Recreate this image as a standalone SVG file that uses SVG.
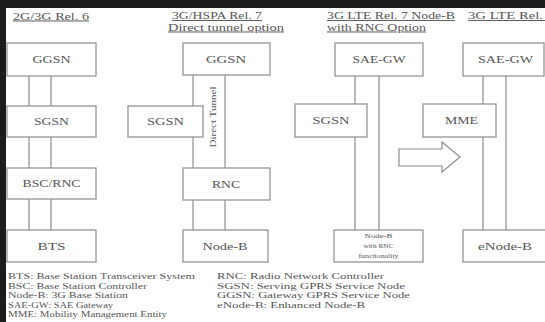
<svg xmlns="http://www.w3.org/2000/svg" width="545" height="322" viewBox="0 0 545 322">
<style>
.box{fill:#fff;stroke:#8c8c8c;stroke-width:1.2}
.ln{stroke:#8c8c8c;stroke-width:1.2;fill:none}
text{font-family:"Liberation Serif","Times New Roman",serif;fill:#555}
.lbl{font-size:10px;text-anchor:middle}
.ttl{font-size:9.5px;text-decoration:underline}
.leg{font-size:8.5px}
.sm{font-size:6px;text-anchor:middle}
</style>
<rect x="0" y="0" width="545" height="322" fill="#fff"/>
<rect x="0" y="0" width="545" height="8" fill="#1c1c1c"/>
<rect x="0" y="0" width="6" height="322" fill="#1c1c1c"/>

<g id="titles">
<text class="ttl" x="13" y="19.5" textLength="76" lengthAdjust="spacingAndGlyphs">2G/3G Rel. 6</text>
<text class="ttl" x="172" y="19" textLength="90" lengthAdjust="spacingAndGlyphs">3G/HSPA Rel. 7</text>
<text class="ttl" x="168" y="30.5" textLength="116" lengthAdjust="spacingAndGlyphs">Direct tunnel option</text>
<text class="ttl" x="327" y="19" textLength="128" lengthAdjust="spacingAndGlyphs">3G LTE Rel. 7 Node-B</text>
<text class="ttl" x="327" y="30.5" textLength="99" lengthAdjust="spacingAndGlyphs">with RNC Option</text>
<text class="ttl" x="468" y="19" textLength="86" lengthAdjust="spacingAndGlyphs">3G LTE Rel. 8</text>
</g>

<g id="connectors">
<line class="ln" x1="29" y1="76" x2="29" y2="106"/>
<line class="ln" x1="51" y1="76" x2="51" y2="106"/>
<line class="ln" x1="29" y1="137" x2="29" y2="168"/>
<line class="ln" x1="51" y1="137" x2="51" y2="168"/>
<line class="ln" x1="29" y1="199" x2="29" y2="230"/>
<line class="ln" x1="51" y1="199" x2="51" y2="230"/>

<line class="ln" x1="193" y1="75" x2="193" y2="106"/>
<line class="ln" x1="193" y1="137" x2="193" y2="168"/>
<line class="ln" x1="225" y1="75" x2="225" y2="168"/>
<line class="ln" x1="193" y1="200" x2="193" y2="230"/>
<line class="ln" x1="225" y1="200" x2="225" y2="230"/>

<line class="ln" x1="355" y1="76" x2="355" y2="104"/>
<line class="ln" x1="355" y1="137" x2="355" y2="230"/>
<line class="ln" x1="379" y1="76" x2="379" y2="230"/>

<line class="ln" x1="483" y1="76" x2="483" y2="104"/>
<line class="ln" x1="483" y1="137" x2="483" y2="230"/>
<line class="ln" x1="506" y1="76" x2="506" y2="230"/>
</g>
<text id="direct-tunnel" font-size="8.5" text-anchor="middle" transform="translate(216 117) rotate(-90)" textLength="61" lengthAdjust="spacingAndGlyphs">Direct Tunnel</text>

<g id="ggsn1"><rect class="box" x="7" y="43" width="89" height="33"/><text class="lbl" x="51.5" y="63" textLength="38" lengthAdjust="spacingAndGlyphs">GGSN</text></g>
<g id="sgsn1"><rect class="box" x="7" y="106" width="89" height="31"/><text class="lbl" x="51.5" y="125" textLength="35" lengthAdjust="spacingAndGlyphs">SGSN</text></g>
<g id="bscrnc1"><rect class="box" x="7" y="168" width="89" height="31"/><text class="lbl" x="51.5" y="187" textLength="58" lengthAdjust="spacingAndGlyphs">BSC/RNC</text></g>
<g id="bts1"><rect class="box" x="7" y="230" width="89" height="32"/><text class="lbl" x="51.5" y="249.5" textLength="28" lengthAdjust="spacingAndGlyphs">BTS</text></g>

<g id="ggsn2"><rect class="box" x="183" y="43" width="87" height="32"/><text class="lbl" x="226" y="62.5" textLength="40" lengthAdjust="spacingAndGlyphs">GGSN</text></g>
<g id="sgsn2"><rect class="box" x="128" y="106" width="75" height="31"/><text class="lbl" x="165.5" y="125" textLength="37" lengthAdjust="spacingAndGlyphs">SGSN</text></g>
<g id="rnc2"><rect class="box" x="183" y="168" width="87" height="32"/><text class="lbl" x="226" y="187.5" textLength="28" lengthAdjust="spacingAndGlyphs">RNC</text></g>
<g id="nodeb2"><rect class="box" x="183" y="230" width="85" height="32"/><text class="lbl" x="225" y="249.5" textLength="45" lengthAdjust="spacingAndGlyphs">Node-B</text></g>

<g id="saegw3"><rect class="box" x="335" y="43" width="88" height="33"/><text class="lbl" x="379" y="63" textLength="53" lengthAdjust="spacingAndGlyphs">SAE-GW</text></g>
<g id="sgsn3"><rect class="box" x="295" y="104" width="72" height="33"/><text class="lbl" x="331" y="124" textLength="37" lengthAdjust="spacingAndGlyphs">SGSN</text></g>
<g id="nodeb3"><rect class="box" x="334" y="230" width="89" height="32"/>
<text class="sm" x="378.5" y="238" textLength="28" lengthAdjust="spacingAndGlyphs">Node-B</text>
<text class="sm" x="378.5" y="248" textLength="30" lengthAdjust="spacingAndGlyphs">with RNC</text>
<text class="sm" x="378.5" y="258" textLength="40" lengthAdjust="spacingAndGlyphs">functionality</text></g>

<g id="arrow"><polygon points="399,149 442,149 442,142 460,157 442,172 442,166 399,166" fill="#fff" stroke="#8c8c8c" stroke-width="1.2"/></g>

<g id="saegw4"><rect class="box" x="463" y="43" width="81" height="33"/><text class="lbl" x="505.5" y="63" textLength="55" lengthAdjust="spacingAndGlyphs">SAE-GW</text></g>
<g id="mme4"><rect class="box" x="423" y="104" width="73" height="33"/><text class="lbl" x="461.5" y="124" textLength="33" lengthAdjust="spacingAndGlyphs">MME</text></g>
<g id="enodeb4"><rect class="box" x="463" y="230" width="84" height="32"/><text class="lbl" x="505" y="249.5" textLength="54" lengthAdjust="spacingAndGlyphs">eNode-B</text></g>

<g id="legend">
<text class="leg" x="8" y="279" textLength="187" lengthAdjust="spacingAndGlyphs">BTS: Base Station Transceiver System</text>
<text class="leg" x="8" y="288.5" textLength="139" lengthAdjust="spacingAndGlyphs">BSC: Base Station Controller</text>
<text class="leg" x="8" y="298" textLength="120" lengthAdjust="spacingAndGlyphs">Node-B: 3G Base Station</text>
<text class="leg" x="8" y="307.5" textLength="105" lengthAdjust="spacingAndGlyphs">SAE-GW: SAE Gateway</text>
<text class="leg" x="8" y="317" textLength="159" lengthAdjust="spacingAndGlyphs">MME: Mobility Management Entity</text>
<text class="leg" x="217" y="279" textLength="167" lengthAdjust="spacingAndGlyphs">RNC: Radio Network Controller</text>
<text class="leg" x="217" y="288.5" textLength="188" lengthAdjust="spacingAndGlyphs">SGSN: Serving GPRS Service Node</text>
<text class="leg" x="217" y="298" textLength="193" lengthAdjust="spacingAndGlyphs">GGSN: Gateway GPRS Service Node</text>
<text class="leg" x="217" y="307.5" textLength="148" lengthAdjust="spacingAndGlyphs">eNode-B: Enhanced Node-B</text>
</g>
</svg>
